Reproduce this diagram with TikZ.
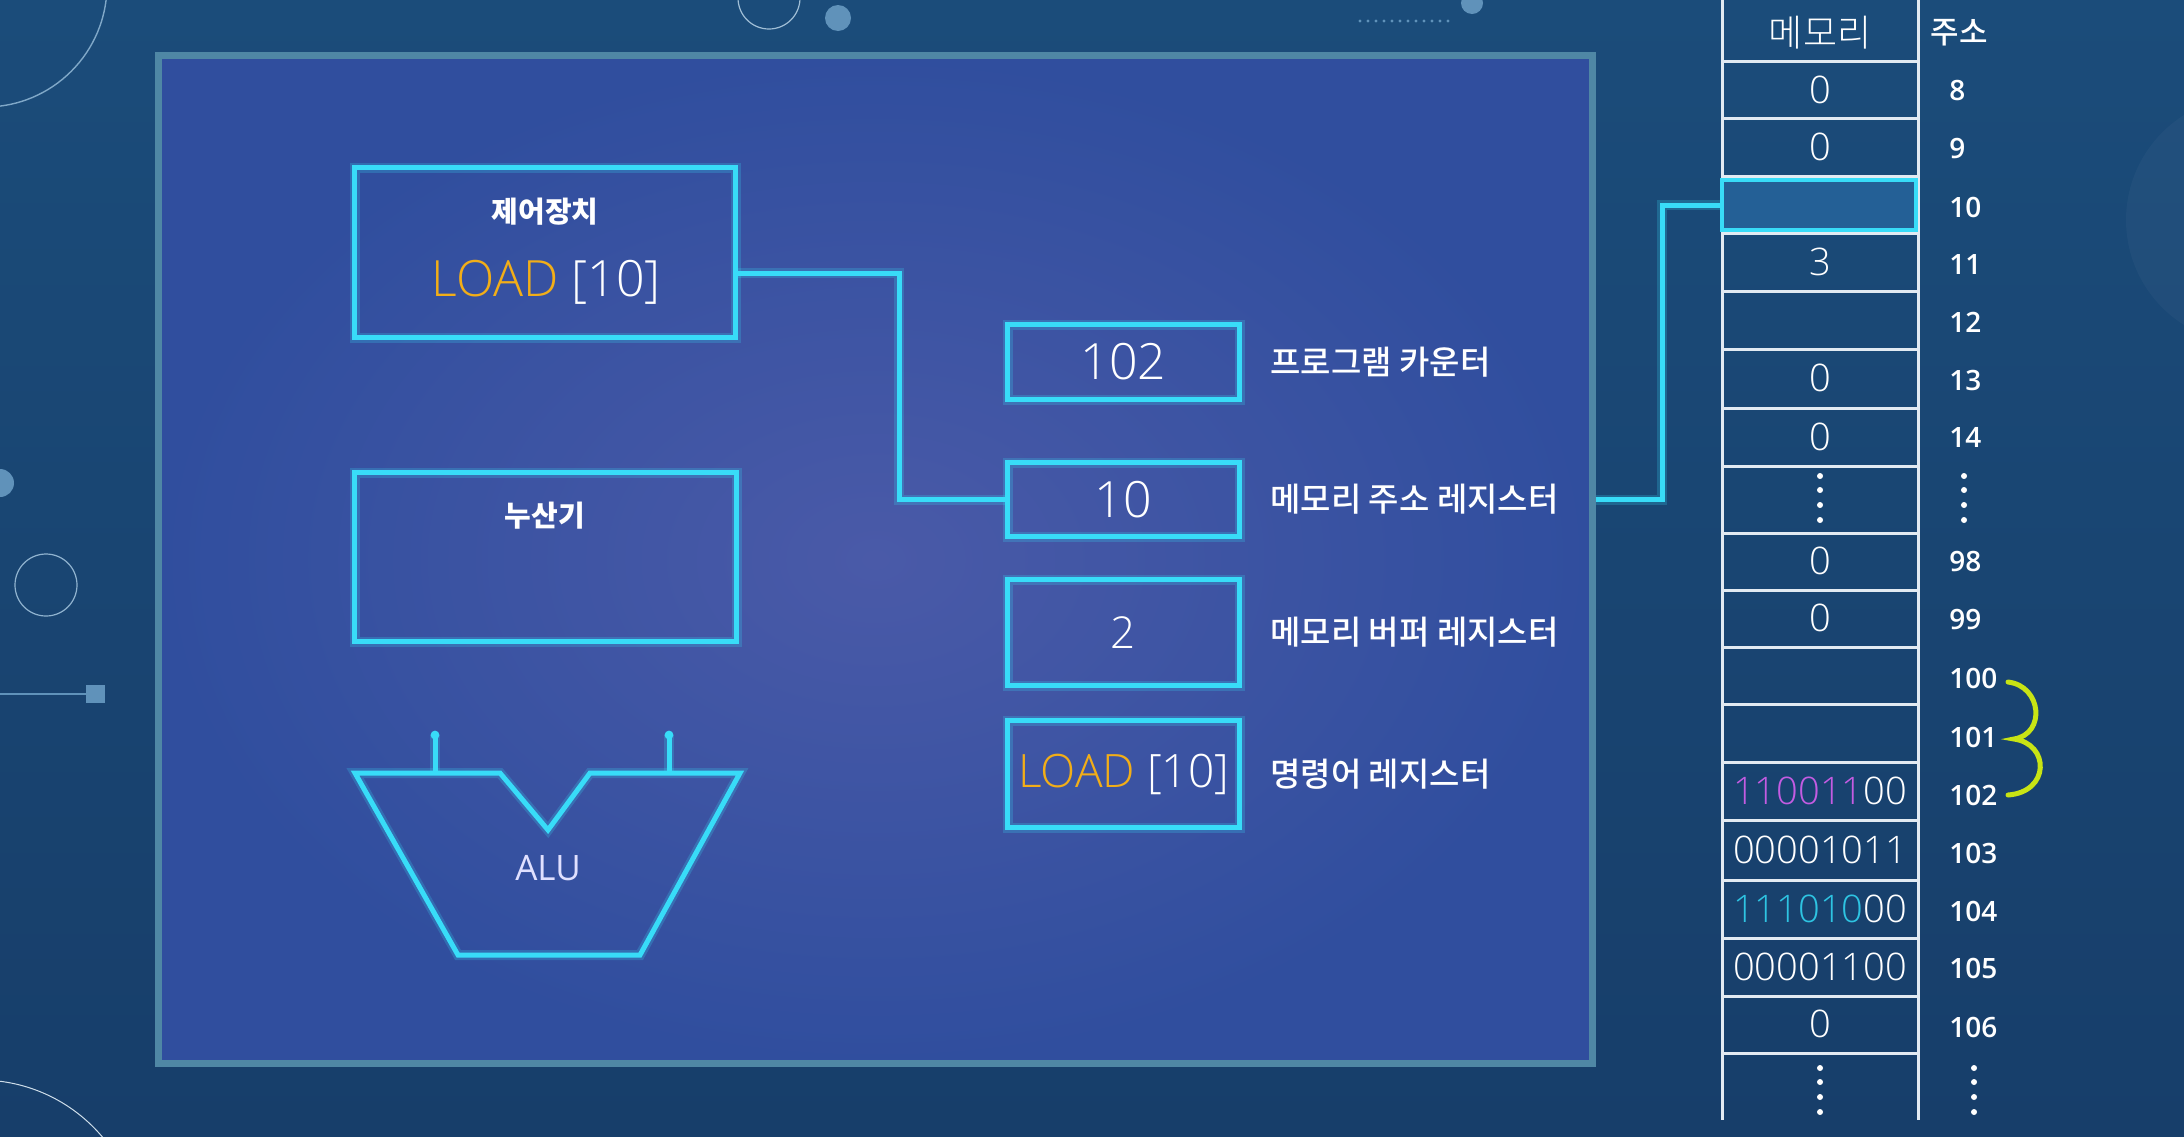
\documentclass[tikz,border=0pt]{standalone}
\usepackage{fontspec}
\setmainfont{Noto Sans CJK KR}
\newfontfamily\regfont{Open Sans}
\IfFontExistsTF{Open Sans Light}{\newfontfamily\thinfont{Open Sans Light}}{\newfontfamily\thinfont{Open Sans}}
\IfFontExistsTF{Open Sans SemiBold}{\newfontfamily\midfont{Open Sans SemiBold}}{%
  \IfFontExistsTF{Open Sans Semibold}{\newfontfamily\midfont{Open Sans Semibold}}{\newfontfamily\midfont{Open Sans}[FakeBold=1.5]}}
\IfFontExistsTF{Noto Sans CJK KR Light}{\newfontfamily\krthin{Noto Sans CJK KR Light}}{\newfontfamily\krthin{Noto Sans CJK KR}}
\IfFontExistsTF{Noto Sans CJK KR Medium}{\newfontfamily\krmid{Noto Sans CJK KR Medium}}{\newfontfamily\krmid{Noto Sans CJK KR}[FakeBold=1.2]}
\usepackage{tikz}
\usetikzlibrary{calc,positioning}
\usepackage{xcolor}
\definecolor{bgtop}{RGB}{27,76,122}
\definecolor{bgbot}{RGB}{23,62,106}
\definecolor{panelrim}{RGB}{79,135,165}
\definecolor{panelmid}{RGB}{74,90,168}
\definecolor{paneledge}{RGB}{48,78,158}
\definecolor{wirecyan}{RGB}{56,220,248}
\definecolor{loadorange}{RGB}{242,174,24}
\definecolor{opmag}{RGB}{196,92,226}
\definecolor{opcyan}{RGB}{46,196,226}
\definecolor{bracelime}{RGB}{200,228,20}
\definecolor{gridwhite}{RGB}{226,234,242}
\definecolor{cellhi}{RGB}{36,96,150}
\definecolor{decor}{RGB}{96,146,186}

\newcommand\regnum{\thinfont\fontsize{25pt}{30pt}\selectfont}
\newcommand\cellfont{\thinfont\fontsize{19pt}{23pt}\selectfont}
\newcommand\addrfont{\midfont\fontsize{14pt}{17pt}\selectfont}
\newcommand\krlabel{\krmid\fontsize{16.5pt}{20pt}\selectfont}
\newcommand\krtitle{\fontsize{14.5pt}{18pt}\selectfont\bfseries}

\begin{document}
\begin{tikzpicture}[x=0.5pt, y=-0.5pt,
    every node/.style={inner sep=0pt, text=white},
    wire/.style={draw=wirecyan, line width=2.5pt,
        preaction={draw=wirecyan, line width=5pt, opacity=0.22}},
    unitbox/.style={wire, rectangle, minimum width=190.5pt, minimum height=85pt},
    regbox/.style={wire, rectangle, minimum width=116pt},
    reglabel/.style={right=14pt of #1, font=\krlabel},
    cellnum/.style={font=\cellfont},
    addr/.style={anchor=west, font=\addrfont}]

\useasboundingbox (0,0) rectangle (2184,1136);

% Background and decorations
\begin{scope}
    \clip (0,0) rectangle (2184,1136);
    \shade[top color=bgtop, bottom color=bgbot] (0,0) rectangle (2184,1136);
    \fill[white, opacity=0.03] (2250,220) circle (62pt);
    \draw[decor!80, line width=0.7pt] (-15,-15) circle (61pt);
    \draw[decor!60, line width=0.6pt] (769,-2) circle (15.5pt);
    \fill[decor] (838,18) circle (6.5pt);
    \fill[decor] (1472,3) circle (5.5pt);
    \foreach \i in {0,...,11} {
        \fill[decor] (1360+\i*8, 21) circle (0.8pt);
    }
    \fill[decor] (0,483) circle (7pt);
    \draw[decor!70, line width=0.6pt] (46,585) circle (15.5pt);
    \draw[decor, line width=0.6pt] (0,694) -- (86,694);
    \fill[decor] (86,685) rectangle (105,703);
    \draw[decor!30, line width=0.5pt] (-20,1240) circle (80pt);
\end{scope}

% CPU panel
\node[draw=panelrim, line width=3.5pt, inner color=panelmid, outer color=paneledge,
      minimum width=717pt, minimum height=504pt] (panel) at (875.5,559.5) {};

% Control unit and accumulator
\node[unitbox] (ctrl) at (545,252.5) {};
\node[font=\krtitle] (ctrltitle) at (545,212) {제어장치};
\node[font=\regnum] (ctrlop) at (546,282) {\textcolor{loadorange}{LOAD} [10]};

\node[unitbox, minimum width=191pt, minimum height=84.5pt] (acc) at (545.5,557) {};
\node[font=\krtitle] (acctitle) at (545,516) {누산기};

% ALU
\coordinate (alu1) at (355,773);
\coordinate (alu2) at (500,773);
\coordinate (alu3) at (548,830);
\coordinate (alu4) at (590,773);
\coordinate (alu5) at (740,773);
\coordinate (alu6) at (640,955);
\coordinate (alu7) at (458,955);
\draw[wire, line join=miter] (alu1) -- (alu2) -- (alu3) -- (alu4) -- (alu5) -- (alu6) -- (alu7) -- cycle;
\coordinate (pinL) at (435,735);
\coordinate (pinR) at (669,735);
\foreach \p in {pinL,pinR} {
    \draw[wire] (\p) -- (\p |- alu1);
    \fill[wirecyan] (\p) circle (2.2pt);
}
\node[font=\regfont\fontsize{17.5pt}{20pt}\selectfont, text=white!88!blue] (alu) at (548,868) {ALU};

% Registers
\node[regbox, minimum height=37.5pt, font=\regnum] (pc) at (1123.5,362) {102};
\node[regbox, minimum height=37pt, font=\regnum] (mar) at (1123.5,499.5) {10};
\node[regbox, minimum height=53pt, font=\thinfont\fontsize{22pt}{26pt}\selectfont] (mbr) at (1123.5,632.5) {2};
\node[regbox, minimum height=53.5pt, font=\thinfont\fontsize{23pt}{28pt}\selectfont] (ir) at (1123.5,774) {\textcolor{loadorange}{LOAD} [10]};

\node[reglabel=pc] (pclabel) {프로그램 카운터};
\node[reglabel=mar] (marlabel) {메모리 주소 레지스터};
\node[reglabel=mbr] (mbrlabel) {메모리 버퍼 레지스터};
\node[reglabel=ir] (irlabel) {명령어 레지스터};

% Memory table
\draw[gridwhite, line width=1.5pt] (1722,0) -- (1722,1120);
\draw[gridwhite, line width=1.5pt] (1918,0) -- (1918,1120);
\foreach \y in {61,118,176,233,291,349,408,466,533,590,647,704,762,820,880,938,996,1053} {
    \draw[gridwhite, line width=1.5pt] (1722,\y) -- (1918,\y);
}
\node[font=\krthin\fontsize{18.5pt}{22pt}\selectfont] (memhead) at (1820,33) {메모리};
\node[font=\krmid\fontsize{15.5pt}{19pt}\selectfont] (addrhead) at (1959,33) {주소};

\node[draw=wirecyan, line width=2pt, fill=cellhi, minimum width=97pt, minimum height=25pt] (cell10) at (1819,205) {};

\foreach \v/\y [count=\i] in {0/90, 0/147, 3/262, 0/378, 0/437, 0/561, 0/618, 0/1024} {
    \node[cellnum] (val\i) at (1820,\y) {\v};
}
\node[cellnum] (bin102) at (1820,791) {\textcolor{opmag}{110011}00};
\node[cellnum] (bin103) at (1820,850) {00001011};
\node[cellnum] (bin104) at (1820,909) {\textcolor{opcyan}{111010}00};
\node[cellnum] (bin105) at (1820,967) {00001100};

\foreach \a/\y in {8/91, 9/149, 10/207, 11/264, 12/322, 13/380, 14/437,
                   98/562, 99/620, 100/678, 101/737, 102/795, 103/853, 104/911, 105/968, 106/1027} {
    \node[addr] (addr\a) at (1949,\y) {\a};
}

% Vertical ellipses
\foreach \y in {476,490,505,520} {
    \fill[white] (1820,\y) circle (1.5pt);
    \fill[white] (1964,\y) circle (1.5pt);
}
\foreach \y in {1068,1082,1097,1112} {
    \fill[white] (1820,\y) circle (1.5pt);
    \fill[white] (1974,\y) circle (1.5pt);
}

% Brace over 100--102
\draw[bracelime, line width=2.5pt, line cap=round]
    (2008,682) .. controls (2042,686) and (2046,734) .. (2014,739)
    .. controls (2050,744) and (2050,792) .. (2008,795);

% Connectors
\coordinate (bend) at (899,273);
\draw[wire] (ctrl.east |- bend) -- (bend) |- (mar.west);
\coordinate (tap) at (1662,205);
\draw[wire] (panel.east |- mar.east) -| (tap) -- (cell10.west);

\end{tikzpicture}
\end{document}
